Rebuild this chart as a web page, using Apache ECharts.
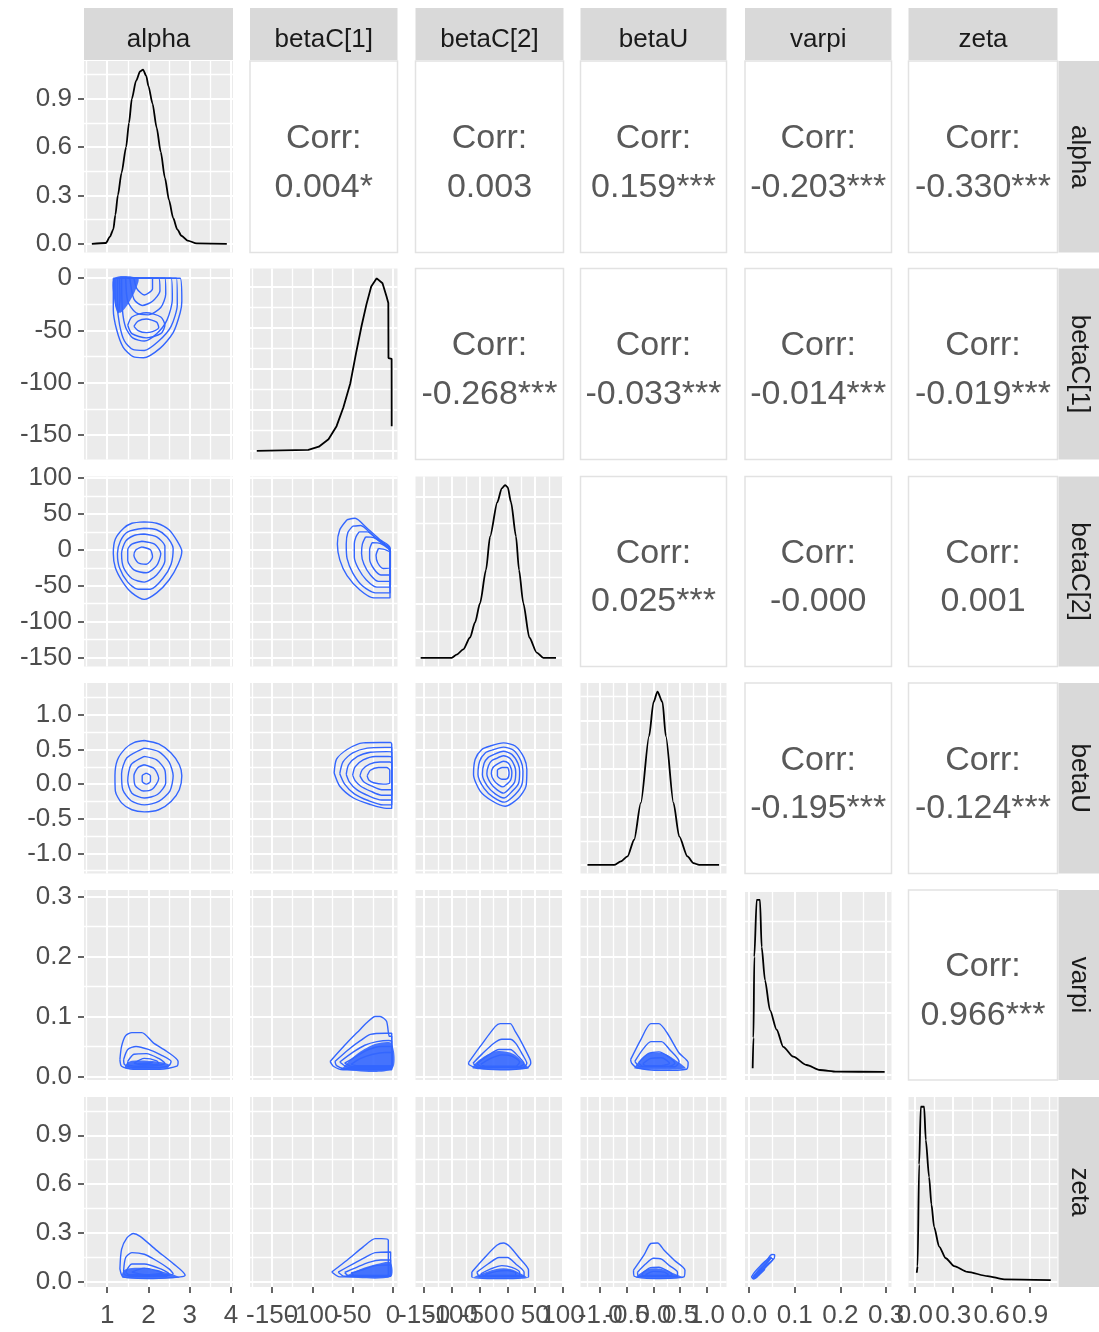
<!DOCTYPE html>
<html>
<head>
<meta charset="utf-8">
<script src="https://cdn.jsdelivr.net/npm/echarts@6/dist/echarts.min.js"></script>
<style>
  html, body { margin: 0; padding: 0; background: #ffffff; }
  #chart { width: 1099px; height: 1332px; }
</style>
</head>
<body>
<div id="chart"></div>
<script>
// ---- variables and axis scales ----
const varNames = ['alpha', 'betaC[1]', 'betaC[2]', 'betaU', 'varpi', 'zeta'];

// x limits per column, y limits per row (row 1 is the alpha density scale)
const xLimits = [[0.44, 4.05], [-177.4, 5.6], [-165.5, 101], [-1.37, 1.37], [-0.009, 0.312], [-0.049, 1.114]];
const yLimits = [[-0.054, 1.134], [-173.2, 9.3], [-162.6, 102.2], [-1.29, 1.46], [-0.006, 0.311], [-0.031, 1.135]];

// tick labels
const xTicks = [[1, 2, 3, 4], [-150, -100, -50, 0], [-150, -100, -50, 0, 50, 100], [-1, -0.5, 0, 0.5, 1], [0, 0.1, 0.2, 0.3], [0, 0.3, 0.6, 0.9]];
const yTicks = [[0, 0.3, 0.6, 0.9], [-150, -100, -50, 0], [-150, -100, -50, 0, 50, 100], [-1, -0.5, 0, 0.5, 1], [0, 0.1, 0.2, 0.3], [0, 0.3, 0.6, 0.9]];
const xDecimals = [0, 0, 0, 1, 1, 1];
const yDecimals = [1, 0, 0, 1, 1, 1];

// density scales of the diagonal panels
const diagLimits = [[-0.054, 1.134], [-0.00106, 0.0222], [-0.0008, 0.0169], [-0.09, 1.89], [-0.9, 30.1], [-0.54, 18.9]];
const diagSteps = [0.3, 0.005, 0.005, 0.5, 10, 5];

// ---- marginal densities ----
const densAlpha = [[0.63, 0], [0.97, 0.005], [1.07, 0.045], [1.15, 0.09], [1.2, 0.18], [1.26, 0.3], [1.35, 0.44], [1.46, 0.6], [1.53, 0.75], [1.6, 0.9], [1.7, 1.01], [1.8, 1.07], [1.87, 1.08], [1.95, 1.04], [2.0, 0.98], [2.1, 0.87], [2.2, 0.72], [2.3, 0.57], [2.4, 0.41], [2.5, 0.27], [2.6, 0.16], [2.7, 0.09], [2.8, 0.05], [2.95, 0.02], [3.17, 0.002], [3.9, 0]];
const densBetaC1 = [[-169, 0], [-105, 0.0001], [-92, 0.0005], [-80, 0.0014], [-70, 0.003], [-61.5, 0.0053], [-53, 0.0082], [-46, 0.0118], [-39, 0.0152], [-33, 0.0178], [-27, 0.02], [-20.2, 0.021], [-13, 0.0204], [-8, 0.0188], [-5.8, 0.018], [-5.6, 0.0113], [-1.7, 0.0112], [-1.6, 0.003]];
const densBetaC2 = [[-156.2, 0], [-100.4, 0], [-91.4, 0.0003], [-79.4, 0.0008], [-67.3, 0.0019], [-58.3, 0.0033], [-49.3, 0.0051], [-38.5, 0.0082], [-31.3, 0.0113], [-18.1, 0.0145], [-10.2, 0.0158], [-4.3, 0.0161], [0.5, 0.0159], [6.5, 0.0145], [15.5, 0.0113], [20.9, 0.0082], [28.6, 0.0051], [39.5, 0.0019], [52.7, 0.0005], [64.7, 0], [87.5, 0]];
const densBetaU = [[-1.239, 0], [-0.739, 0], [-0.613, 0.035], [-0.488, 0.087], [-0.363, 0.261], [-0.238, 0.644], [-0.082, 1.34], [0.0, 1.69], [0.075, 1.8], [0.169, 1.69], [0.231, 1.34], [0.375, 0.644], [0.482, 0.296], [0.638, 0.087], [0.75, 0.017], [0.857, 0], [1.232, 0]];
const densVarpi = [[0.0078, 1.0], [0.0095, 6], [0.0114, 19.2], [0.0166, 28.5], [0.0238, 28.5], [0.0275, 20.8], [0.0348, 15.4], [0.0457, 10.5], [0.0604, 7.3], [0.0748, 4.5], [0.0967, 2.9], [0.126, 1.55], [0.155, 0.73], [0.192, 0.46], [0.297, 0.42]];
const densZeta = [[0.0156, 0.92], [0.022, 1.6], [0.034, 12.0], [0.047, 17.9], [0.073, 17.9], [0.086, 14.5], [0.112, 10.7], [0.13, 7.9], [0.151, 5.6], [0.19, 3.6], [0.242, 2.4], [0.307, 1.6], [0.411, 1.0], [0.568, 0.58], [0.697, 0.25], [1.062, 0.17]];

// ---- 2d density contours (x = column variable, y = row variable) ----
const contBetaC1Alpha = [
  [[1.15, 0], [2.77, 0], [2.81, -22], [2.77, -33], [2.6, -52], [2.28, -67], [1.88, -76], [1.63, -75], [1.39, -66], [1.23, -49], [1.15, -30], [1.15, 0]],
  [[1.25, 0], [2.68, 0], [2.7, -25], [2.55, -46], [2.25, -60], [1.9, -69], [1.62, -68], [1.42, -60], [1.3, -44], [1.25, -25], [1.25, 0]],
  [[1.35, 0], [2.55, 0], [2.58, -20], [2.45, -40], [2.2, -53], [1.9, -60], [1.62, -57], [1.45, -47], [1.37, -30], [1.35, 0]],
  [[1.5, -45], [1.6, -37], [1.95, -33], [2.3, -37], [2.4, -45], [2.3, -53], [1.95, -57], [1.6, -53], [1.5, -45]],
  [[1.65, -46], [1.75, -41], [1.95, -39], [2.2, -42], [2.25, -47], [2.1, -51], [1.95, -52], [1.75, -50], [1.65, -46]],
  [[1.45, 0], [2.4, 0], [2.42, -15], [2.3, -28], [2.0, -35], [1.7, -33], [1.5, -22], [1.45, 0]],
  [[1.55, 0], [2.25, 0], [2.28, -12], [2.1, -22], [1.85, -26], [1.65, -20], [1.55, 0]],
  [[1.65, 0], [2.1, 0], [2.1, -10], [1.9, -16], [1.72, -10], [1.65, 0]],
  [[1.19, 0], [1.2, -24], [1.27, -33], [1.31, -18], [1.3, 0]]
];
const contBetaC2Alpha = [
  [[1.9, 39], [2.2, 37], [2.5, 28], [2.7, 12], [2.81, -2], [2.72, -20], [2.5, -42], [2.2, -60], [1.9, -69], [1.6, -60], [1.38, -45], [1.2, -25], [1.15, -5], [1.2, 15], [1.4, 30], [1.6, 37], [1.9, 39]],
  [[1.9, 30], [2.2, 28], [2.45, 18], [2.6, 2], [2.55, -20], [2.35, -40], [2.05, -55], [1.75, -55], [1.5, -45], [1.3, -25], [1.25, -5], [1.32, 12], [1.5, 25], [1.9, 30]],
  [[1.9, 22], [2.2, 18], [2.4, 5], [2.4, -15], [2.2, -35], [1.9, -45], [1.6, -40], [1.4, -25], [1.35, -5], [1.45, 12], [1.65, 20], [1.9, 22]],
  [[1.85, 12], [2.15, 8], [2.3, -5], [2.2, -22], [1.95, -32], [1.65, -28], [1.5, -15], [1.5, 0], [1.6, 8], [1.85, 12]],
  [[1.85, 4], [2.05, 0], [2.1, -10], [1.95, -20], [1.75, -18], [1.65, -8], [1.7, 0], [1.85, 4]]
];
const contBetaUAlpha = [
  [[1.9, 0.63], [2.25, 0.58], [2.55, 0.45], [2.75, 0.28], [2.81, 0.12], [2.75, -0.08], [2.55, -0.25], [2.25, -0.37], [1.9, -0.4], [1.6, -0.37], [1.35, -0.27], [1.2, -0.1], [1.19, 0.12], [1.25, 0.35], [1.45, 0.52], [1.65, 0.6], [1.9, 0.63]],
  [[1.9, 0.52], [2.25, 0.47], [2.5, 0.32], [2.6, 0.12], [2.52, -0.1], [2.25, -0.25], [1.9, -0.3], [1.58, -0.24], [1.38, -0.08], [1.35, 0.15], [1.48, 0.38], [1.9, 0.52]],
  [[1.9, 0.4], [2.2, 0.35], [2.4, 0.2], [2.42, 0.02], [2.22, -0.15], [1.9, -0.2], [1.6, -0.13], [1.5, 0.05], [1.58, 0.28], [1.9, 0.4]],
  [[1.9, 0.28], [2.15, 0.22], [2.25, 0.08], [2.1, -0.07], [1.88, -0.1], [1.68, -0.02], [1.65, 0.12], [1.75, 0.24], [1.9, 0.28]],
  [[1.95, 0.16], [2.05, 0.12], [2.05, 0.04], [1.95, 0.0], [1.85, 0.04], [1.85, 0.12], [1.95, 0.16]]
];
const contVarpiAlpha = [
  [[1.31, 0.028], [1.35, 0.05], [1.45, 0.068], [1.6, 0.073], [1.84, 0.073], [2.12, 0.056], [2.44, 0.042], [2.72, 0.025], [2.69, 0.017], [2.28, 0.012], [1.63, 0.012], [1.35, 0.017], [1.31, 0.028]],
  [[1.4, 0.028], [1.5, 0.045], [1.7, 0.05], [2.0, 0.045], [2.3, 0.036], [2.55, 0.025], [2.5, 0.018], [2.2, 0.015], [1.6, 0.015], [1.42, 0.02], [1.4, 0.028]],
  [[1.5, 0.025], [1.65, 0.037], [1.95, 0.038], [2.25, 0.03], [2.4, 0.022], [2.2, 0.018], [1.7, 0.017], [1.5, 0.02], [1.5, 0.025]],
  [[1.65, 0.022], [1.9, 0.03], [2.2, 0.026], [2.25, 0.021], [1.9, 0.019], [1.65, 0.022]],
  [[1.75, 0.021], [2.1, 0.023], [1.9, 0.02], [1.75, 0.021]]
];
const contZetaAlpha = [
  [[1.31, 0.08], [1.35, 0.2], [1.48, 0.27], [1.63, 0.297], [1.8, 0.28], [2.2, 0.194], [2.6, 0.113], [2.89, 0.041], [2.77, 0.031], [2.12, 0.021], [1.39, 0.031], [1.31, 0.08]],
  [[1.4, 0.07], [1.45, 0.15], [1.6, 0.18], [1.9, 0.17], [2.2, 0.13], [2.5, 0.08], [2.6, 0.05], [2.2, 0.035], [1.6, 0.035], [1.42, 0.045], [1.4, 0.07]],
  [[1.45, 0.06], [1.6, 0.11], [1.9, 0.11], [2.3, 0.08], [2.5, 0.05], [2.1, 0.04], [1.55, 0.042], [1.45, 0.06]],
  [[1.6, 0.06], [1.9, 0.085], [2.2, 0.07], [2.35, 0.055], [1.9, 0.045], [1.6, 0.06]],
  [[1.5, 0.045], [2.4, 0.045], [2.45, 0.035], [1.5, 0.038], [1.5, 0.045]]
];
const contBetaC2BetaC1 = [
  [[-57, 42], [-47, 44], [-33, 31], [-16, 14], [-3.7, 3], [-3.7, -67], [-24, -67], [-41, -56], [-57, -36], [-66, -14], [-69, 8], [-66, 28], [-57, 42]],
  [[-50, 33], [-40, 34], [-25, 20], [-10, 8], [-3.7, 2], [-3.7, -60], [-22, -60], [-38, -50], [-50, -32], [-57, -12], [-58, 8], [-56, 24], [-50, 33]],
  [[-42, 25], [-32, 25], [-18, 13], [-3.7, 0], [-3.7, -52], [-20, -52], [-33, -42], [-43, -26], [-48, -10], [-48, 8], [-46, 18], [-42, 25]],
  [[-34, 18], [-24, 17], [-12, 8], [-3.7, 0], [-3.7, -44], [-18, -44], [-28, -35], [-36, -20], [-39, -5], [-38, 8], [-34, 18]],
  [[-26, 10], [-16, 9], [-6, 2], [-3.7, -3], [-3.7, -35], [-15, -35], [-24, -26], [-29, -12], [-29, 0], [-26, 10]],
  [[-18, 2], [-9, 0], [-3.7, -4], [-3.7, -25], [-12, -26], [-19, -18], [-21, -8], [-18, 2]]
];
const contBetaUBetaC1 = [
  [[-73, 0.16], [-70, 0.36], [-57, 0.5], [-37, 0.595], [-16, 0.6], [-3, 0.6], [-1.6, 0.58], [-1.6, -0.35], [-8, -0.35], [-29, -0.29], [-49, -0.2], [-66, -0.03], [-73, 0.16]],
  [[-66, 0.15], [-62, 0.32], [-50, 0.45], [-32, 0.52], [-10, 0.53], [-1.6, 0.53], [-1.6, -0.3], [-12, -0.3], [-30, -0.24], [-48, -0.14], [-60, 0.0], [-66, 0.15]],
  [[-58, 0.14], [-55, 0.28], [-44, 0.4], [-28, 0.46], [-8, 0.47], [-1.6, 0.46], [-1.6, -0.23], [-14, -0.23], [-30, -0.17], [-45, -0.08], [-54, 0.03], [-58, 0.14]],
  [[-50, 0.13], [-47, 0.25], [-37, 0.35], [-22, 0.4], [-6, 0.4], [-1.6, 0.39], [-1.6, -0.16], [-14, -0.16], [-28, -0.1], [-40, -0.03], [-47, 0.05], [-50, 0.13]],
  [[-41, 0.12], [-38, 0.21], [-29, 0.29], [-16, 0.32], [-4, 0.32], [-1.6, 0.3], [-1.6, -0.08], [-14, -0.08], [-26, -0.03], [-36, 0.03], [-41, 0.12]],
  [[-32, 0.12], [-28, 0.2], [-18, 0.24], [-8, 0.24], [-4, 0.2], [-4, 0.02], [-12, 0.0], [-24, 0.02], [-30, 0.06], [-32, 0.12]]
];
const contVarpiBetaC1 = [
  [[-78, 0.025], [-57, 0.056], [-41, 0.078], [-33, 0.089], [-22, 0.1], [-16, 0.1], [-8, 0.092], [-4.6, 0.067], [-1.6, 0.067], [-1.6, 0.011], [-62, 0.011], [-74, 0.017], [-78, 0.025]],
  [[-72, 0.025], [-55, 0.045], [-40, 0.06], [-28, 0.07], [-10, 0.072], [-1.6, 0.072], [-1.6, 0.013], [-60, 0.013], [-70, 0.018], [-72, 0.025]],
  [[-66, 0.024], [-50, 0.04], [-35, 0.052], [-20, 0.058], [-5, 0.06], [-1.6, 0.058], [-1.6, 0.015], [-55, 0.015], [-66, 0.024]],
  [[-60, 0.022], [-45, 0.034], [-30, 0.045], [-15, 0.05], [-1.6, 0.05], [-1.6, 0.016], [-50, 0.016], [-60, 0.022]],
  [[-52, 0.02], [-40, 0.03], [-25, 0.037], [-10, 0.04], [-1.6, 0.04], [-1.6, 0.018], [-45, 0.018], [-52, 0.02]]
];
const contZetaBetaC1 = [
  [[-76, 0.061], [-57, 0.133], [-37, 0.215], [-22, 0.266], [-14, 0.266], [-5.8, 0.256], [-5.8, 0.031], [-66, 0.031], [-76, 0.061]],
  [[-68, 0.06], [-50, 0.11], [-35, 0.15], [-22, 0.18], [-3, 0.184], [-3, 0.035], [-60, 0.035], [-68, 0.06]],
  [[-60, 0.058], [-45, 0.09], [-30, 0.12], [-15, 0.135], [-3, 0.135], [-3, 0.038], [-55, 0.038], [-60, 0.058]],
  [[-52, 0.055], [-38, 0.075], [-22, 0.1], [-3, 0.105], [-3, 0.04], [-48, 0.04], [-52, 0.055]]
];
const contBetaUBetaC2 = [
  [[-31, 0.55], [-7, 0.595], [14, 0.55], [30, 0.38], [35, 0.21], [33.5, -0.03], [20, -0.2], [-4, -0.32], [-28, -0.24], [-49, -0.1], [-61, 0.14], [-58, 0.36], [-46, 0.5], [-31, 0.55]],
  [[-28, 0.49], [-7, 0.535], [11, 0.49], [24, 0.34], [28, 0.19], [26, -0.01], [14, -0.15], [-5, -0.26], [-25, -0.19], [-42, -0.06], [-53, 0.14], [-50, 0.33], [-40, 0.45], [-28, 0.49]],
  [[-24, 0.43], [-7, 0.475], [8, 0.43], [19, 0.3], [22, 0.18], [20, 0.01], [9, -0.1], [-6, -0.2], [-22, -0.14], [-36, -0.03], [-45, 0.14], [-42, 0.3], [-34, 0.39], [-24, 0.43]],
  [[-20, 0.37], [-7, 0.41], [5, 0.37], [13, 0.26], [15, 0.17], [13, 0.03], [4, -0.06], [-7, -0.13], [-19, -0.08], [-30, 0.01], [-37, 0.15], [-34, 0.27], [-28, 0.34], [-20, 0.37]],
  [[-16, 0.3], [-7, 0.33], [2, 0.3], [7, 0.22], [8, 0.16], [6, 0.06], [-1, 0.0], [-8, -0.04], [-16, -0.01], [-24, 0.05], [-29, 0.15], [-26, 0.24], [-16, 0.3]],
  [[-10, 0.24], [0, 0.24], [3, 0.16], [0, 0.08], [-10, 0.07], [-18, 0.12], [-18, 0.2], [-10, 0.24]]
];
const contVarpiBetaC2 = [
  [[-70, 0.023], [-49, 0.05], [-22, 0.083], [-13, 0.088], [5, 0.088], [14, 0.075], [23, 0.061], [41, 0.028], [42, 0.022], [35, 0.014], [-13, 0.011], [-55, 0.014], [-69, 0.0195], [-70, 0.023]],
  [[-62, 0.022], [-45, 0.038], [-25, 0.055], [-10, 0.062], [5, 0.062], [15, 0.055], [28, 0.035], [35, 0.022], [28, 0.015], [-50, 0.015], [-62, 0.022]],
  [[-55, 0.021], [-35, 0.035], [-15, 0.045], [5, 0.045], [20, 0.033], [30, 0.021], [20, 0.016], [-45, 0.016], [-55, 0.021]],
  [[-48, 0.02], [-30, 0.03], [-10, 0.036], [8, 0.034], [22, 0.024], [15, 0.017], [-40, 0.017], [-48, 0.02]]
];
const contZetaBetaC2 = [
  [[-64, 0.061], [-40, 0.153], [-19, 0.225], [-7, 0.239], [5, 0.215], [20, 0.153], [38, 0.072], [38, 0.031], [-13, 0.021], [-64, 0.031], [-64, 0.061]],
  [[-55, 0.06], [-35, 0.11], [-15, 0.15], [0, 0.15], [15, 0.11], [30, 0.06], [30, 0.035], [-50, 0.035], [-55, 0.06]],
  [[-48, 0.05], [-30, 0.08], [-10, 0.1], [8, 0.09], [22, 0.06], [22, 0.038], [-42, 0.038], [-48, 0.05]],
  [[-40, 0.045], [-20, 0.065], [0, 0.07], [15, 0.055], [15, 0.04], [-35, 0.04], [-40, 0.045]]
];
const contVarpiBetaU = [
  [[-0.43, 0.028], [-0.24, 0.061], [-0.05, 0.088], [0.1, 0.088], [0.26, 0.072], [0.48, 0.039], [0.65, 0.023], [0.62, 0.012], [0.14, 0.01], [-0.3, 0.014], [-0.41, 0.022], [-0.43, 0.028]],
  [[-0.35, 0.025], [-0.2, 0.045], [-0.05, 0.058], [0.15, 0.058], [0.3, 0.045], [0.48, 0.025], [0.4, 0.016], [-0.25, 0.016], [-0.35, 0.025]],
  [[-0.28, 0.023], [-0.1, 0.038], [0.1, 0.041], [0.28, 0.033], [0.4, 0.022], [0.3, 0.017], [-0.2, 0.017], [-0.28, 0.023]],
  [[-0.2, 0.021], [-0.05, 0.03], [0.15, 0.031], [0.3, 0.022], [0.15, 0.018], [-0.15, 0.018], [-0.2, 0.021]]
];
const contZetaBetaU = [
  [[-0.375, 0.072], [-0.18, 0.164], [-0.05, 0.236], [0.075, 0.239], [0.2, 0.194], [0.39, 0.133], [0.59, 0.072], [0.57, 0.031], [0.01, 0.021], [-0.36, 0.035], [-0.375, 0.072]],
  [[-0.3, 0.06], [-0.15, 0.11], [0.0, 0.145], [0.15, 0.14], [0.3, 0.1], [0.45, 0.06], [0.45, 0.035], [-0.28, 0.035], [-0.3, 0.06]],
  [[-0.22, 0.05], [-0.08, 0.085], [0.1, 0.09], [0.28, 0.065], [0.35, 0.045], [0.3, 0.038], [-0.2, 0.038], [-0.22, 0.05]],
  [[-0.15, 0.045], [0.0, 0.065], [0.2, 0.06], [0.28, 0.045], [-0.1, 0.04], [-0.15, 0.045]]
];
const contZetaVarpi = [
  [[0.005, 0.03], [0.012, 0.06], [0.025, 0.1], [0.04, 0.14], [0.05, 0.168], [0.056, 0.165], [0.055, 0.145], [0.042, 0.11], [0.028, 0.07], [0.016, 0.03], [0.01, 0.018], [0.005, 0.03]],
  [[0.009, 0.03], [0.02, 0.065], [0.035, 0.105], [0.048, 0.145], [0.052, 0.14], [0.04, 0.1], [0.025, 0.055], [0.014, 0.025], [0.009, 0.03]],
  [[0.01, 0.03], [0.02, 0.055], [0.03, 0.08], [0.034, 0.078], [0.022, 0.045], [0.014, 0.027], [0.01, 0.03]]
];

// innermost, tightly packed contour levels drawn as a solid core
const coreBetaC1Alpha = [[1.17, 0], [1.75, 0], [1.7, -10], [1.5, -25], [1.3, -33], [1.18, -22]];
const coreVarpiAlpha = [[1.45, 0.013], [2.45, 0.013], [2.5, 0.02], [2.2, 0.025], [1.6, 0.026], [1.45, 0.02]];
const coreZetaAlpha = [[1.38, 0.025], [2.75, 0.025], [2.6, 0.045], [2.3, 0.065], [1.9, 0.085], [1.6, 0.085], [1.4, 0.07]];
const coreVarpiBetaC1 = [[-62, 0.012], [-1.6, 0.012], [-1.6, 0.055], [-20, 0.055], [-40, 0.042], [-55, 0.025]];
const coreZetaBetaC1 = [[-60, 0.03], [-3, 0.03], [-3, 0.12], [-20, 0.11], [-40, 0.08], [-55, 0.045]];
const coreVarpiBetaC2 = [[-62, 0.013], [38, 0.013], [30, 0.022], [10, 0.038], [-20, 0.042], [-50, 0.028]];
const coreZetaBetaC2 = [[-60, 0.025], [35, 0.025], [25, 0.05], [5, 0.08], [-20, 0.08], [-50, 0.045]];
const coreVarpiBetaU = [[-0.35, 0.013], [0.6, 0.013], [0.45, 0.025], [0.2, 0.038], [-0.1, 0.038], [-0.3, 0.022]];
const coreZetaBetaU = [[-0.32, 0.025], [0.55, 0.025], [0.4, 0.05], [0.15, 0.08], [-0.1, 0.08], [-0.28, 0.045]];
const coreZetaVarpi = [[0.006, 0.025], [0.012, 0.02], [0.035, 0.09], [0.05, 0.15], [0.045, 0.155], [0.02, 0.08]];

// ---- correlations shown in the upper triangle ----
const corrLabels = [
  ['', '0.004*', '0.003', '0.159***', '-0.203***', '-0.330***'],
  ['', '', '-0.268***', '-0.033***', '-0.014***', '-0.019***'],
  ['', '', '', '0.025***', '-0.000', '0.001'],
  ['', '', '', '', '-0.195***', '-0.124***'],
  ['', '', '', '', '', '0.966***'],
  ['', '', '', '', '', '']
];

// ---- panel layout (pixels) ----
const colLeft = [84, 250, 415.5, 580.5, 745, 908.5];
const colRight = [233, 397.5, 563.5, 726.5, 891.5, 1057.5];
const rowTop = [61, 268.5, 476.5, 683, 890, 1097];
const rowBottom = [252.5, 459.5, 666.5, 873.5, 1080, 1287];

const FONT = '"Liberation Sans", Arial, sans-serif';
const CONTOUR_COLOR = '#3366FF';
const LABEL_SIZE = 26;

const diagDensities = [densAlpha, densBetaC1, densBetaC2, densBetaU, densVarpi, densZeta];
const lowerContours = {
  '1,0': contBetaC1Alpha,
  '2,0': contBetaC2Alpha, '2,1': contBetaC2BetaC1,
  '3,0': contBetaUAlpha, '3,1': contBetaUBetaC1, '3,2': contBetaUBetaC2,
  '4,0': contVarpiAlpha, '4,1': contVarpiBetaC1, '4,2': contVarpiBetaC2, '4,3': contVarpiBetaU,
  '5,0': contZetaAlpha, '5,1': contZetaBetaC1, '5,2': contZetaBetaC2, '5,3': contZetaBetaU, '5,4': contZetaVarpi
};
const lowerCores = {
  '1,0': coreBetaC1Alpha,
  '4,0': coreVarpiAlpha, '4,1': coreVarpiBetaC1, '4,2': coreVarpiBetaC2, '4,3': coreVarpiBetaU,
  '5,0': coreZetaAlpha, '5,1': coreZetaBetaC1, '5,2': coreZetaBetaC2, '5,3': coreZetaBetaU, '5,4': coreZetaVarpi
};

// multiples of step (shifted by offset) that fall inside the limits
function gridValues(step, lim, offset) {
  const out = [];
  let k = Math.ceil((lim[0] - offset) / step - 1e-9);
  for (;; k++) {
    const v = k * step + offset;
    if (v > lim[1] + 1e-9) break;
    out.push(+v.toFixed(10));
  }
  return out;
}

function fmt(dec) {
  return function (v) {
    const s = Math.abs(v).toFixed(dec);
    return (v < 0 && +s !== 0 ? '-' : '') + s;
  };
}

function makeAxis(gridIndex, lim, values, showGrid, showLabels, dec, major, pos) {
  return {
    type: 'value', gridIndex: gridIndex, min: lim[0], max: lim[1], position: pos,
    axisLine: { show: false, onZero: false },
    axisTick: { show: showLabels, customValues: values, length: 6, inside: false,
      lineStyle: { color: '#333333', width: 1.5 } },
    axisLabel: { show: showLabels, customValues: values, formatter: fmt(dec),
      hideOverlap: false, showMinLabel: true, showMaxLabel: true,
      color: '#4D4D4D', fontSize: LABEL_SIZE, fontFamily: FONT, margin: pos === 'left' ? 12 : 16 },
    splitLine: { show: showGrid, lineStyle: { color: '#FFFFFF', width: major ? 2 : 1.3 } },
    minorTick: { show: false }, minorSplitLine: { show: false },
    silent: true
  };
}

const grids = [], xAxes = [], yAxes = [], series = [], graphics = [];

for (let r = 0; r < 6; r++) {
  for (let c = 0; c < 6; c++) {
    const g = r * 6 + c;
    const upper = c > r, diag = c === r;
    grids.push({
      left: colLeft[c], top: rowTop[r],
      width: colRight[c] - colLeft[c], height: rowBottom[r] - rowTop[r],
      show: true,
      backgroundColor: upper ? '#FFFFFF' : '#EBEBEB',
      borderColor: upper ? '#E2E2E2' : 'rgba(0,0,0,0)',
      borderWidth: upper ? 1.5 : 0
    });
    const xl = xLimits[c];
    const yl = diag ? diagLimits[r] : yLimits[r];
    const xStep = xTicks[c][1] - xTicks[c][0];
    const yStep = diag ? diagSteps[r] : yTicks[r][1] - yTicks[r][0];
    const xMaj = xTicks[c];
    const xMin = gridValues(xStep, xl, xStep / 2);
    const yMaj = diag ? (r === 0 ? yTicks[0] : gridValues(yStep, yl, 0)) : yTicks[r];
    const yMin = gridValues(yStep, yl, yStep / 2);
    const showY = c === 0;
    xAxes.push(makeAxis(g, xl, xMaj, !upper, false, xDecimals[c], true, 'bottom'));
    xAxes.push(makeAxis(g, xl, xMin, !upper, false, 0, false, 'bottom'));
    yAxes.push(makeAxis(g, yl, yMaj, !upper, showY && !upper, yDecimals[r], true, 'left'));
    yAxes.push(makeAxis(g, yl, yMin, !upper, false, 0, false, 'left'));

    if (diag) {
      series.push({
        type: 'line', xAxisIndex: 2 * g, yAxisIndex: 2 * g,
        data: diagDensities[r], showSymbol: false, symbol: 'none',
        smooth: r === 1 ? 0 : 0.25, smoothMonotone: r === 1 ? undefined : 'x',
        lineStyle: { color: '#000000', width: 1.8 }, z: 3, silent: true
      });
    } else if (!upper) {
      const key = r + ',' + c;
      const core = lowerCores[key];
      if (core) {
        series.push({
          type: 'custom', xAxisIndex: 2 * g, yAxisIndex: 2 * g, silent: true, z: 2,
          clip: true, data: core,
          renderItem: function (params, api) {
            if (params.dataIndex !== 0) return null;
            return {
              type: 'polygon',
              shape: { points: core.map(function (p) { return api.coord(p); }), smooth: 0.3 },
              style: { fill: CONTOUR_COLOR, opacity: 0.9 }
            };
          }
        });
      }
      (lowerContours[key] || []).forEach(function (ring) {
        series.push({
          type: 'line', xAxisIndex: 2 * g, yAxisIndex: 2 * g,
          data: ring, showSymbol: false, symbol: 'none', smooth: 0.25,
          lineStyle: { color: CONTOUR_COLOR, width: 1.4 }, z: 3, silent: true
        });
      });
    } else {
      const cx = (colLeft[c] + colRight[c]) / 2;
      const cy = (rowTop[r] + rowBottom[r]) / 2;
      ['Corr:', corrLabels[r][c]].forEach(function (t, i) {
        graphics.push({
          type: 'text', x: cx, y: cy + (i === 0 ? -18 : 30.5), silent: true, z: 10,
          style: { text: t, fill: '#595959', fontSize: 34, fontFamily: FONT,
            align: 'center', verticalAlign: 'middle', textAlign: 'center', textVerticalAlign: 'middle' }
        });
      });
    }
  }
}

// bottom tick labels: one overlay axis per tick so crowded labels all stay drawn
for (let c = 0; c < 6; c++) {
  xTicks[c].forEach(function (v) {
    const gi = grids.length;
    grids.push({
      left: colLeft[c], top: rowTop[5],
      width: colRight[c] - colLeft[c], height: rowBottom[5] - rowTop[5], show: false
    });
    xAxes.push(makeAxis(gi, xLimits[c], [v], false, true, xDecimals[c], true, 'bottom'));
    yAxes.push({ type: 'value', gridIndex: gi, min: yLimits[5][0], max: yLimits[5][1], show: false });
  });
}

// facet strips: variable names along the top and down the right side
for (let c = 0; c < 6; c++) {
  graphics.push({ type: 'rect', silent: true, z: 5,
    shape: { x: colLeft[c], y: 8, width: colRight[c] - colLeft[c], height: 52 },
    style: { fill: '#D9D9D9' } });
  graphics.push({ type: 'text', x: (colLeft[c] + colRight[c]) / 2, y: 40, silent: true, z: 6,
    style: { text: varNames[c], fill: '#1A1A1A', fontSize: 26, fontFamily: FONT,
      align: 'center', verticalAlign: 'middle', textAlign: 'center', textVerticalAlign: 'middle' } });
}
for (let r = 0; r < 6; r++) {
  graphics.push({ type: 'rect', silent: true, z: 5,
    shape: { x: 1058.5, y: rowTop[r], width: 60, height: rowBottom[r] - rowTop[r] },
    style: { fill: '#D9D9D9' } });
  graphics.push({ type: 'text', x: 1079.5, y: (rowTop[r] + rowBottom[r]) / 2, rotation: -Math.PI / 2,
    silent: true, z: 6,
    style: { text: varNames[r], fill: '#1A1A1A', fontSize: 26, fontFamily: FONT,
      align: 'center', verticalAlign: 'middle', textAlign: 'center', textVerticalAlign: 'middle' } });
}

const chart = echarts.init(document.getElementById('chart'), null, { renderer: 'canvas', width: 1099, height: 1332 });
chart.setOption({
  animation: false,
  backgroundColor: '#FFFFFF',
  textStyle: { fontFamily: FONT },
  grid: grids,
  xAxis: xAxes,
  yAxis: yAxes,
  series: series,
  graphic: { elements: graphics }
});
</script>
</body>
</html>
